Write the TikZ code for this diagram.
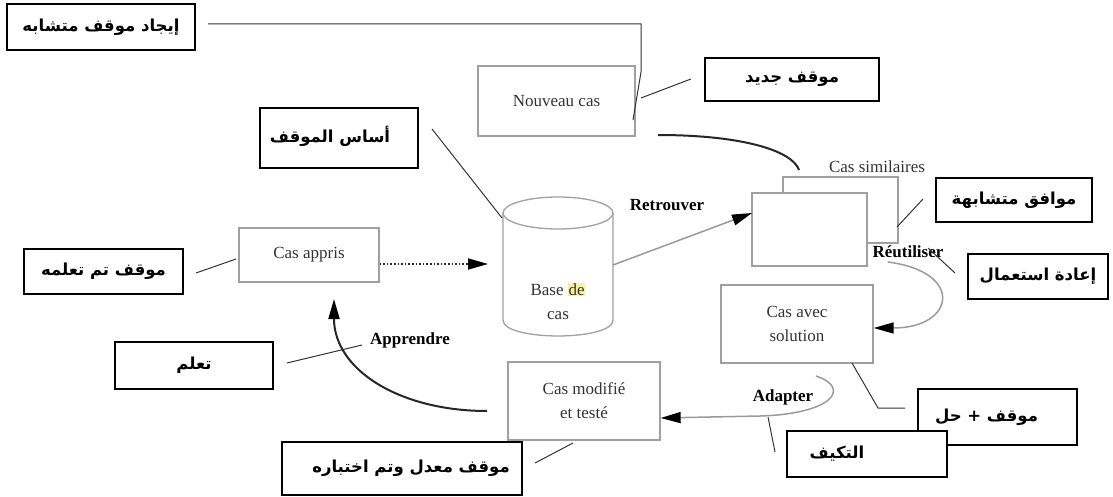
\documentclass[tikz,border=0pt]{standalone}
\usepackage{fontspec}
\setmainfont{Liberation Serif}
\newfontfamily\arabicfont[Script=Arabic]{DejaVu Sans}
\TeXXeTstate=1
\usetikzlibrary{arrows.meta,calc}
\definecolor{boxgray}{HTML}{A0A0A0}
\definecolor{textgray}{HTML}{333333}
\definecolor{flowgray}{HTML}{9A9A9A}
\definecolor{hilite}{HTML}{F8F29A}
\newcommand\artxt[1]{{\arabicfont\bfseries\fontsize{16.5}{19}\selectfont\beginR #1\endR}}
\setlength{\fboxsep}{0.8pt}
\begin{document}
\begin{tikzpicture}[x=1pt,y=-1pt,
  abox/.style={draw=black, line width=1.4pt, fill=white, inner sep=0pt},
  pbox/.style={draw=boxgray, line width=1.3pt, fill=white, inner sep=0pt,
    text=textgray, align=center, font=\fontsize{17}{24}\selectfont},
  lbl/.style={inner sep=0pt, font=\bfseries\fontsize{17}{20}\selectfont},
  lead/.style={draw=black!80, line width=1pt},
  darkflow/.style={draw=black!85, line width=2pt},
  greyflow/.style={draw=flowgray, line width=1.5pt},
  tip/.style={-{Triangle[length=20pt,width=11pt,color=black]}}
]
\useasboundingbox (0,0) rectangle (1113,497);

% annotation boxes (Arabic)
\node[abox, minimum width=188pt, minimum height=46pt] (a1) at (101,27) {\artxt{إيجاد موقف متشابه}};
\node[abox, minimum width=174pt, minimum height=43pt] (a2) at (792,79.5) {\artxt{موقف جديد}};
\node[abox, minimum width=158pt, minimum height=60pt] (a3) at (339,138) {\raisebox{8pt}{\artxt{أساس الموقف}}\hspace*{18pt}};
\node[abox, minimum width=156pt, minimum height=44pt] (a4) at (1014,200) {\artxt{موافق متشابهة}};
\node[abox, minimum width=159pt, minimum height=45pt] (a5) at (103.5,271.5) {\artxt{موقف تم تعلمه}};
\node[abox, minimum width=140pt, minimum height=45pt] (a6) at (1038,276.5) {\artxt{إعادة استعمال}};
\node[abox, minimum width=158pt, minimum height=47pt] (a7) at (194,365.5) {\artxt{تعلم}};
\node[abox, minimum width=159pt, minimum height=56pt] (a8) at (997.5,417) {\artxt{موقف + حل}\hspace*{22pt}};
\node[abox, minimum width=160pt, minimum height=46pt] (a9) at (867,454) {\artxt{التكيف}\hspace*{60pt}};
\node[abox, minimum width=240pt, minimum height=53pt] (a10) at (402,468.5) {\hspace*{18pt}\artxt{موقف معدل وتم اختباره}};

% process boxes
\node[pbox, minimum width=157pt, minimum height=70pt] (nc) at (556.5,101) {Nouveau cas};
\node[pbox, minimum width=140pt, minimum height=54pt] (ca) at (309,255) {Cas appris};
\node[pbox, minimum width=115pt, minimum height=66pt] (csb) at (840.5,210) {};
\node[pbox, minimum width=115pt, minimum height=73pt] (csf) at (809.5,229.5) {};
\node[pbox, inner sep=0pt, draw=none, fill=none] (cst) at (877,167) {Cas similaires};
\node[pbox, minimum width=152pt, minimum height=78pt] (cav) at (797,324) {Cas avec\\solution};
\node[pbox, minimum width=152pt, minimum height=78pt] (cm) at (584,401) {Cas modifié\\et testé};

% case base cylinder
\path[draw=boxgray, line width=1.3pt, fill=white]
  (503,213) -- (503,320) .. controls (503,341.3) and (613,341.3) .. (613,320) -- (613,213);
\draw[boxgray, line width=1.3pt, fill=white] (558,213) ellipse[x radius=55, y radius=16];
\node[pbox, draw=none, fill=none] (db) at (558,301) {Base \colorbox{hilite}{de}\\cas};

% phase labels
\node[lbl] (retr) at (667,205) {Retrouver};
\node[lbl] (reut) at (908,252) {Réutiliser};
\node[lbl] (adap) at (783,397) {Adapter};
\node[lbl] (appr) at (410,340) {Apprendre};

% end points of the leader lines and flows
\coordinate (l1a) at (208,24);
\coordinate (l1b) at (641,24);
\coordinate (l1c) at (641,72);
\coordinate (l1d) at (633,120);
\coordinate (l2a) at (691,79);
\coordinate (l2b) at (641,98);
\coordinate (l3a) at (432,129);
\coordinate (l3b) at (502,218);
\coordinate (l4a) at (923,199);
\coordinate (l4b) at (897,227);
\coordinate (l5a) at (196,273);
\coordinate (l5b) at (236,259);
\coordinate (l6a) at (955,273);
\coordinate (l6b) at (928,248);
\coordinate (l7a) at (287,363);
\coordinate (l7b) at (362,345);
\coordinate (l8a) at (852,363);
\coordinate (l8b) at (878,408);
\coordinate (l8c) at (905,408);
\coordinate (l9a) at (768,417);
\coordinate (l9b) at (775,452);
\coordinate (l10a) at (535,463);
\coordinate (l10b) at (573,443);

\coordinate (f1a) at (658,135);
\coordinate (f1b) at (799,170);
\coordinate (dbR) at (613,265);
\coordinate (csIn) at (752,213);
\coordinate (f3a) at (888,262);
\coordinate (f4a) at (816,376);
\coordinate (f4b) at (760,416);
\coordinate (f5a) at (487,411);
\coordinate (f5b) at (334,299);
\coordinate (dbIn) at (488,264);

% leader lines
\draw[lead] (l1a) -- (l1b) -- (l1c) -- (l1d);
\draw[lead] (l2a) -- (l2b);
\draw[lead] (l3a) -- (l3b);
\draw[lead] (l4a) -- (l4b);
\draw[lead] (l5a) -- (l5b);
\draw[lead] (l6a) -- (l6b);
\draw[lead] (l7a) -- (l7b);
\draw[lead] (l8a) -- (l8b) -- (l8c);
\draw[lead] (l9a) -- (l9b);
\draw[lead] (l10a) -- (l10b);

% cycle flows
\draw[darkflow] (f1a) .. controls (740,135) and (792,150) .. (f1b);
\draw[greyflow, tip] (dbR) -- (csIn);
\draw[greyflow, tip] (f3a) .. controls (965,272) and (955,328) .. (cav.east |- 0,328);
\draw[greyflow, tip] (f4a) .. controls (852,388) and (832,414) .. (f4b) -- (cm.east |- 0,418);
\draw[darkflow, tip] (f5a) .. controls (400,411) and (334,370) .. (f5b);
\draw[black!85, line width=1.6pt, dotted, tip] (ca.east |- 0,264) -- (dbIn);
\end{tikzpicture}
\end{document}
